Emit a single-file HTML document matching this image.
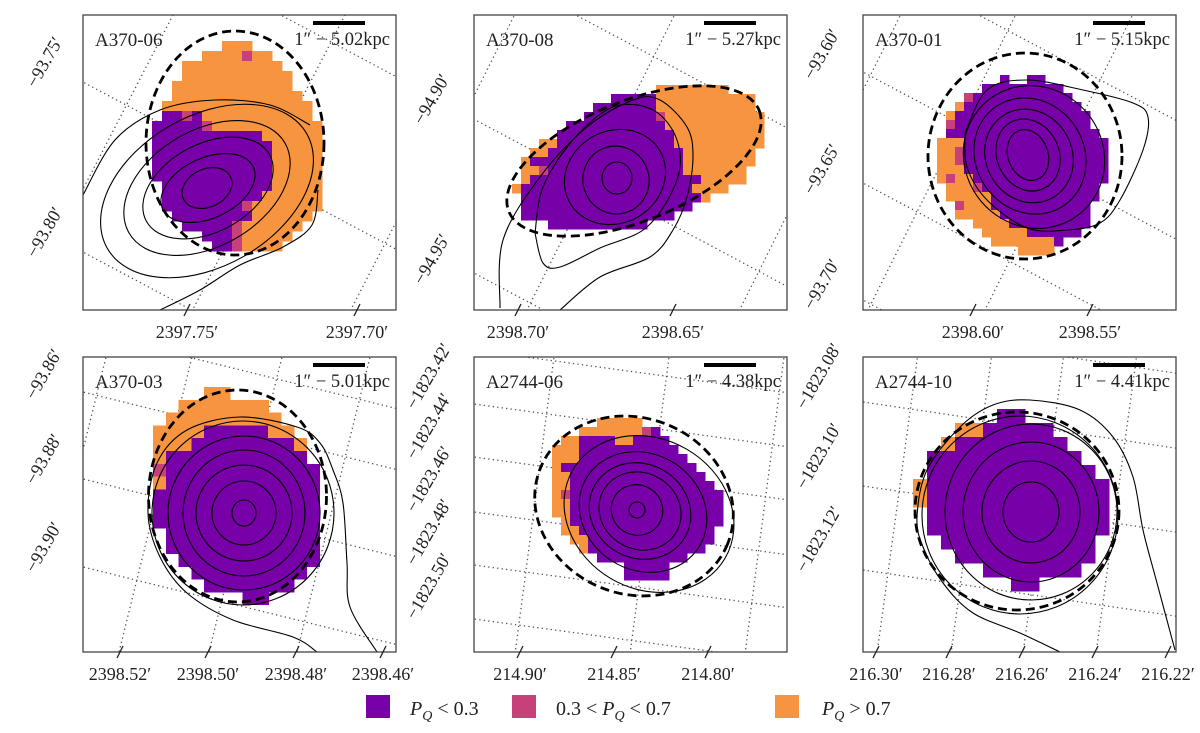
<!DOCTYPE html>
<html><head><meta charset="utf-8">
<style>
html,body{margin:0;padding:0;background:#fff;width:1200px;height:733px;overflow:hidden;}
svg{display:block;font-family:"Liberation Serif",serif;overflow:hidden;}
</style></head>
<body>
<svg id="fig" width="1200" height="733" viewBox="0 0 1200 733" xmlns="http://www.w3.org/2000/svg"></svg>
<script>
// ---- data ----
const panelNames = ["A370-06","A370-08","A370-01","A370-03","A2744-06","A2744-10"];
const scaleLabels = ["5.02","5.27","5.15","5.01","4.38","4.41"];
const colorCodes = {P:"#7800a8", M:"#c8407a", O:"#f7943f"};
const map0 = [
".......OOO.......",
".....OOOOMOO.....",
"...OOOOOOOOOO....",
"...OOOOOOOOOOO...",
"..OOOOOOOOOOOO...",
"..OOOOOOOOOOOOO..",
".OOOOOOOOOOOOOOO.",
".PPMPOOOOOOOOOOO.",
"PPPPPMOOOOOOOOOOO",
"PPPPPPPPPPPOOOOOO",
"PPPPPPPPPPPPOOOOO",
"PPPPPPPPPPPPOOOOO",
"PPPPPPPPPPPPOOOOO",
"PPPPPPPPPPPPOOOOO",
".PPPPPPPPPPPOOOOO",
".PPPPPPPPPPOOOOOO",
".PPPPPPPPMOOOOOOO",
"..PPPPPPPPOOOOOO.",
"...PPPPPMOOOOOO..",
".....PPPMOOOOO...",
"......PPMOOOO...."];
const map1 = [
"................OOOOOOOO....",
"...........PPPPPOOOOOOOOOOO.",
".........PPPPPPPOOOOOOOOOOO.",
"........PPPPPPPPMOOOOOOOOOOO",
"......PPPPPPPPPPPOOOOOOOOOOO",
".....PPPPPPPPPPPPPOOOOOOOOOO",
"...OOPPPPPPPPPPPPPOOOOOOOOOO",
"..OOPPPPPPPPPPPPPPPOOOOOOOO.",
".OPPPPPPPPPPPPPPPPPOOOOOOOO.",
".OOMPPPPPPPPPPPPPPPOOOOOOO..",
".OPPPPPPPPPPPPPPPPPPPOOOOO..",
"OPPPPPPPPPPPPPPPPPPPOOOO....",
".PPPPPPPPPPPPPPPPPPPPO......",
".PPPPPPPPPPPPPPPPPPP........",
".PPPPPPPPPPPPPPPPP..........",
"....PPPPPPPPPPP............."];
const map2 = [
".......P..PP.......",
".....PPPPPPPPP.....",
"...MPPPPPPPPPPP....",
"..OPPPPPPPPPPPPP...",
".OPPPPPPPPPPPPPPP..",
".MPPPPPPPPPPPPPPP..",
".PPPPPPPPPPPPPPPPP.",
"OOOPPPPPPPPPPPPPPPP",
"OOMPPPPPPPPPPPPPPPP",
"OOMPPPPPPPPPPPPPPPP",
"OOOPPPPPPPPPPPPPPPP",
"OMOOPPPPPPPPPPPPPPP",
".OOOMPPPPPPPPPPPPP.",
".OOOOOPPPPPPPPPPPP.",
"..MOOOPPPPPPPPPPP..",
"..OOOOOPPPPPPPPPP..",
"....OOOOPPPPPPPPP..",
".....OOOOOPPPPPP...",
"......OOOOOOOP.....",
".........OOOO......"];
const map3 = [
"....OO.......",
"..OOOOOOO....",
".OOOOOOOOO...",
"OOOOPPPPPOO..",
"OOOPPPPPPPPO.",
"OPPPPPPPPPPP.",
"MPPPPPPPPPPPP",
"OPPPPPPPPPPPP",
"PPPPPPPPPPPPP",
"PPPPPPPPPPPPP",
"PPPPPPPPPPPPP",
".PPPPPPPPPPPP",
".PPPPPPPPPPPP",
"..PPPPPPPPPPP",
"...PPPPPPPPP.",
"....PPPPPPP..",
".......PP...."];
const map4 = [
".....OOOOO.........",
"...OOOOOOOMP.......",
".OOPPPPOOPPPP......",
"OOOPPPPPPPPPPP.....",
"OOOPPPPPPPPPPPP....",
"OPPPPPPPPPPPPPPP...",
"OOPPPPPPPPPPPPPPP..",
"OOPPPPPPPPPPPPPPPP.",
"OMPPPPPPPPPPPPPPPPP",
"OOPPPPPPPPPPPPPPPPP",
"OOPPPPPPPPPPPPPPPPP",
".OPPPPPPPPPPPPPPPPP",
".OOPPPPPPPPPPPPPPP.",
"..OOPPPPPPPPPPPPPP.",
"...OPPPPPPPPPPPPP..",
".....PPPPPPPPPP....",
"........PPPPP......",
"........PPPPP......"];
const map5 = [
"......PP......",
"...OOPPPPP....",
"..OPPPPPPPP...",
".PPPPPPPPPPP..",
".PPPPPPPPPPPP.",
"OPPPPPPPPPPPPP",
"OPPPPPPPPPPPPP",
".PPPPPPPPPPPPP",
".PPPPPPPPPPPPP",
"..PPPPPPPPPPP.",
"...PPPPPPPPPP.",
".....PPPPPPP..",
".......PP....."];
const pixelMaps = [map0,map1,map2,map3,map4,map5];

const xTickLabels = [["2397.75′","2397.70′"],["2398.70′","2398.65′"],["2398.60′","2398.55′"],
  ["2398.52′","2398.50′","2398.48′","2398.46′"],["214.90′","214.85′","214.80′"],
  ["216.30′","216.28′","216.26′","216.24′","216.22′"]];
const yTickLabels = [["−93.75′","−93.80′"],["−94.90′","−94.95′"],["−93.60′","−93.65′","−93.70′"],
  ["−93.86′","−93.88′","−93.90′"],["−1823.42′","−1823.44′","−1823.46′","−1823.48′","−1823.50′"],
  ["−1823.08′","−1823.10′","−1823.12′"]];
const legendLabels = ["<0.3","mid",">0.7"];

// ---- layout (positions, not data) ----
const boxes = [[83,15],[474,15],[863,15],[83,357],[474,357],[863,357]];
const BW=313, BH=295;
const mapGeom = [[152,41,10],[512,85,9],[937,75,9],[153,387,12.8],[552,418,9],[913,409,14]];
const xTickPos = [[187,357],[518,673],[973,1090],[120,208,296,383],[520,614,708],[876,949,1022,1095,1168]];
const yTickPos = [[[46,63],[46,233]],[[433,100],[433,260]],[[823,55],[823,170],[823,285]],
  [[45,375],[45,460],[45,548]],[[430,377],[430,427],[430,480],[430,533],[430,587]],[[820,377],[820,457],[820,540]]];
const dashEll = [[235,143,89,112,0],[634,161,135,60,-22],[1025,156,97,103,0],[237.5,496,89,106,0],[634,506,101,88,22],[1017,511,102,99,0]];
const rings = [
 [[207,188,26,19,-25],[208,188,50,30,-25],[208,188,70,44,-28],[207,188,90,58,-30],[207,191,115,75,-30]],
 [[617,178,15,16,0],[616,180,33,34,-20],[615,177,52,46,-30]],
 [[1028,155,20,26,-20],[1028,155,31,37,-25],[1029,156,43,48,-30],[1030,156,54,60,-35],[1034,157,69,73,-40]],
 [[244,513,12,13,0],[244,513,32,32,0],[244,513,48,48,0],[244,513,61,63,0],[244,513,76,77,0],[243,513,91,92,0]],
 [[637,510,8,8,0],[637,510,26,25,30],[640,511,42,38,30],[640,511,52,47,30],[643,512,66,58,32],[649,514,88,75,30]],
 [[1031,512,28,30,0],[1031,512,49,51,0],[1031,512,68,70,0],[1031,512,86,88,0],[1020,515,98,99,0]]];
const openContours = [
 [[[83,195],[115,140],[160,110],[215,100],[270,105],[310,125]],[[160,310],[200,290],[240,265],[283,247],[312,225],[318,190]]],
 [[[535,233],[543,263],[560,267],[600,248],[647,227],[677,180],[677,140],[653,110],[613,107],[573,140],[543,187],[535,233]],
  [[500,308],[503,240],[540,177],[587,127],[633,100],[660,100],[687,127],[693,157],[687,197],[673,230],[650,257],[600,277],[560,310]]],
 [[[965,133],[987,90],[1027,80],[1083,90],[1133,103],[1148,117],[1143,150],[1120,200],[1100,223],[1067,230],[1027,228],[987,200],[967,167],[965,133]]],
 [[[377,652],[350,607],[347,563],[343,503],[333,470],[320,443],[297,427],[240,417],[187,430],[157,463],[148,513],[160,557],[187,593],[233,620],[293,637],[317,652]]],
 [],
 [[[1175,650],[1157,583],[1143,530],[1133,477],[1113,437],[1080,410],[1030,400],[993,405],[960,427],[927,470],[917,517],[923,547],[943,583],[973,613],[1020,633],[1060,652]]]];
const gridLines = [
 [[90,0,-0.46,0.89],[262,0,-0.46,0.89],[309,215,-0.46,0.89],[0,67,0.88,0.47],[0,237,0.88,0.47],[194,-2,0.88,0.47]],
 [[43,-5,-0.45,0.9],[203,-5,-0.45,0.9],[313,200,-0.45,0.9],[98,-2,0.88,0.47],[-6,101,0.88,0.47],[0,258,0.88,0.47]],
 [[40,-5,-0.45,0.9],[155,-5,-0.45,0.9],[272,-5,-0.45,0.9],[112,-2,0.88,0.47],[0,57,0.88,0.47],[0,168,0.88,0.47],[0,285,0.88,0.47]],
 [[23,0,-0.24,0.97],[109,0,-0.24,0.97],[199,0,-0.24,0.97],[287,0,-0.24,0.97],[0,35,0.97,0.24],[0,122,0.97,0.24],[0,210,0.97,0.24],[97,-2,0.97,0.24]],
 [[80,0,-0.13,0.99],[195,0,-0.13,0.99],[310,0,-0.13,0.99],[0,-7,0.99,0.135],[0,47,0.99,0.135],[0,100,0.99,0.135],[0,155,0.99,0.135],[0,208,0.99,0.135],[0,262,0.99,0.135]],
 [[55,-4,-0.135,0.99],[129,-4,-0.135,0.99],[201,-4,-0.135,0.99],[274,-4,-0.135,0.99],[0,-30,0.99,0.146],[0,45,0.99,0.146],[0,129,0.99,0.146],[0,213,0.99,0.146]]];

const NS="http://www.w3.org/2000/svg";
const svg=document.getElementById('fig');
function mk(tag,attrs,parent){const e=document.createElementNS(NS,tag);for(const k in attrs)e.setAttribute(k,attrs[k]);(parent||svg).appendChild(e);return e;}
function smooth(pts){
  let d="M"+pts[0][0]+","+pts[0][1];
  for(let i=0;i<pts.length-1;i++){
    const p0=pts[Math.max(i-1,0)],p1=pts[i],p2=pts[i+1],p3=pts[Math.min(i+2,pts.length-1)];
    const c1=[p1[0]+(p2[0]-p0[0])/6,p1[1]+(p2[1]-p0[1])/6],c2=[p2[0]-(p3[0]-p1[0])/6,p2[1]-(p3[1]-p1[1])/6];
    d+=" C"+c1[0].toFixed(1)+","+c1[1].toFixed(1)+" "+c2[0].toFixed(1)+","+c2[1].toFixed(1)+" "+p2[0]+","+p2[1];
  }
  return d;
}
const defs=mk('defs',{});

panelNames.forEach((name,i)=>{
  const [bx,by]=boxes[i];
  const g=mk('g',{});
  
  
  const cp=mk('clipPath',{id:'clip'+i},defs);
  mk('rect',{x:bx,y:by,width:BW,height:BH},cp);
  const inner=mk('g',{'clip-path':'url(#clip'+i+')'},g);
  gridLines[i].forEach(l=>{
    const x0=bx+l[0]-l[2]*400,y0=by+l[1]-l[3]*400,x1=bx+l[0]+l[2]*600,y1=by+l[1]+l[3]*600;
    const ln=mk('line',{x1:x0,y1:y0,x2:x1,y2:y1,stroke:'#555','stroke-width':1.3,'stroke-dasharray':'1.3 3.2'},inner);
    
    
  });
  const [ox,oy,cs]=mapGeom[i];
  const pg=mk('g',{'shape-rendering':'crispEdges'},inner);
  
  
  pixelMaps[i].forEach((row,r)=>{
    for(let c=0;c<row.length;c++){
      const ch=row[c]; if(!colorCodes[ch])continue;
      const px=mk('rect',{x:(ox+c*cs).toFixed(1),y:(oy+r*cs).toFixed(1),width:(cs+0.6).toFixed(1),height:(cs+0.6).toFixed(1),fill:colorCodes[ch]},pg);
      
      
    }
  });
  rings[i].forEach(e=>{
    const el=mk('ellipse',{cx:e[0],cy:e[1],rx:e[2],ry:e[3],transform:`rotate(${e[4]} ${e[0]} ${e[1]})`,fill:'none',stroke:'#000','stroke-width':1.1},inner);
    
    
  });
  openContours[i].forEach(pts=>{
    const el=mk('path',{d:smooth(pts),fill:'none',stroke:'#000','stroke-width':1.1},inner);
    
    
  });
  const de=dashEll[i];
  const dl=mk('ellipse',{cx:de[0],cy:de[1],rx:de[2],ry:de[3],transform:`rotate(${de[4]} ${de[0]} ${de[1]})`,fill:'none',stroke:'#000','stroke-width':2.8,'stroke-dasharray':'9 5'},inner);
  
  
  const fr=mk('rect',{x:bx,y:by,width:BW,height:BH,fill:'none',stroke:'#444','stroke-width':1.3},g);
  
  
  const t=mk('text',{x:bx+12,y:by+31,'font-size':19,fill:'#222'},g);
  t.textContent=name;
  
  
  const sb=mk('rect',{x:bx+BW-83,y:by+6,width:52,height:4,fill:'#000'},g);
  
  
  const st=mk('text',{x:bx+BW-6,y:by+30,'font-size':18.5,'text-anchor':'end',fill:'#222'},g);
  st.textContent='1″ − '+scaleLabels[i]+'kpc';
  
  
  xTickLabels[i].forEach((lab,k)=>{
    const x=xTickPos[i][k];
    mk('line',{x1:x+3,y1:by+BH-6,x2:x-3,y2:by+BH+6,stroke:'#222','stroke-width':1.3},g);
    const tt=mk('text',{x:x,y:by+BH+28,'font-size':18,'text-anchor':'middle',fill:'#222'},g);
    tt.textContent=lab;
    
    
  });
  yTickLabels[i].forEach((lab,k)=>{
    const [x,y]=yTickPos[i][k];
    const tt=mk('text',{x:x,y:y,'font-size':18,'text-anchor':'middle','dominant-baseline':'middle',transform:`rotate(-60 ${x} ${y})`,fill:'#222'},g);
    tt.textContent=lab;
    
    
  });
});

const legend=mk('g',{});


const legSw=[[366,"#7800a8"],[512,"#c8407a"],[775,"#f7943f"]];
const legTx=[410,556,822];
legendLabels.forEach((lab,k)=>{
  const r=mk('rect',{x:legSw[k][0],y:695,width:24,height:23,fill:legSw[k][1]},legend);
  
  
  const t=mk('text',{x:legTx[k],y:715,'font-size':20,fill:'#222'},legend);
  
  
  if(lab==="<0.3") t.innerHTML='<tspan font-style="italic">P</tspan><tspan font-style="italic" font-size="14" dy="5">Q</tspan><tspan dy="-5"> &lt; 0.3</tspan>';
  else if(lab===">0.7") t.innerHTML='<tspan font-style="italic">P</tspan><tspan font-style="italic" font-size="14" dy="5">Q</tspan><tspan dy="-5"> &gt; 0.7</tspan>';
  else t.innerHTML='0.3 &lt; <tspan font-style="italic">P</tspan><tspan font-style="italic" font-size="14" dy="5">Q</tspan><tspan dy="-5"> &lt; 0.7</tspan>';
});
</script>
</body></html>
